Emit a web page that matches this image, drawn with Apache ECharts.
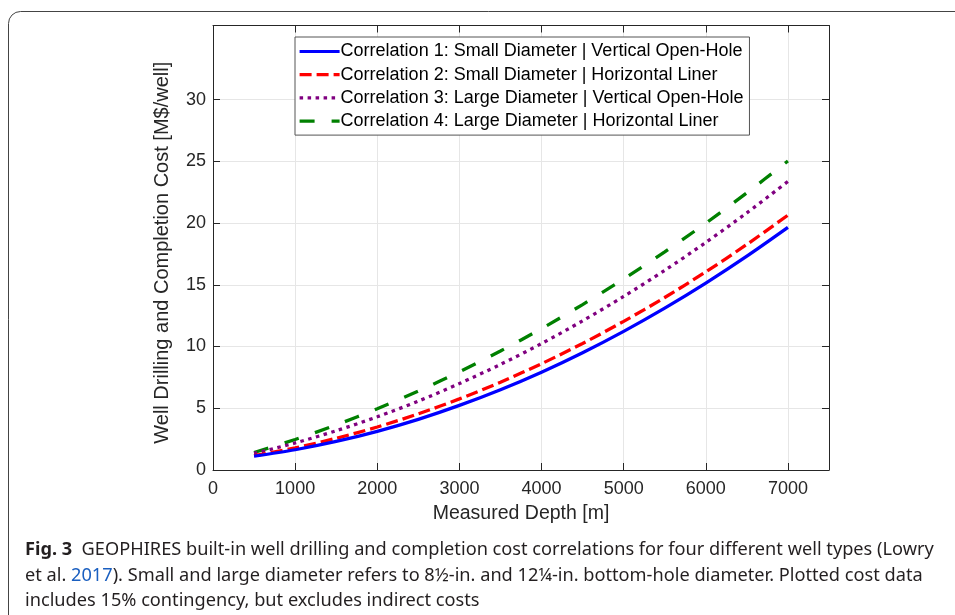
<!DOCTYPE html>
<html>
<head>
<meta charset="utf-8">
<script src="https://cdn.jsdelivr.net/npm/echarts@6/dist/echarts.min.js"></script>
<style>
html,body{margin:0;padding:0;background:#fff;}
#chart{width:955px;height:615px;}
</style>
</head>
<body>
<div id="chart"></div>
<script>
// Measured depth [m]
const depths = [500, 1000, 1500, 2000, 2500, 3000, 3500, 4000, 4500, 5000, 5500, 6000, 6500, 7000];
// Cost [M$/well]
const corr1 = [1.12, 1.64, 2.31, 3.13, 4.10, 5.23, 6.50, 7.92, 9.50, 11.23, 13.11, 15.14, 17.32, 19.65];
const corr2 = [1.16, 1.79, 2.57, 3.48, 4.55, 5.76, 7.11, 8.61, 10.25, 12.04, 13.97, 16.05, 18.27, 20.64];
const corr3 = [1.34, 2.19, 3.18, 4.31, 5.58, 7.00, 8.55, 10.24, 12.08, 14.06, 16.17, 18.43, 20.83, 23.37];
const corr4 = [1.42, 2.47, 3.65, 4.96, 6.39, 7.95, 9.64, 11.45, 13.40, 15.47, 17.67, 19.99, 22.45, 25.03];
const seriesNames = [
  'Correlation 1: Small Diameter | Vertical Open-Hole',
  'Correlation 2: Small Diameter | Horizontal Liner',
  'Correlation 3: Large Diameter | Vertical Open-Hole',
  'Correlation 4: Large Diameter | Horizontal Liner'
];
const xTicks = [0, 1000, 2000, 3000, 4000, 5000, 6000, 7000];
const yTicks = [0, 5, 10, 15, 20, 25, 30];
const xAxisTitle = 'Measured Depth [m]';
const yAxisTitle = 'Well Drilling and Completion Cost [M$/well]';
const captionLines = [
  '{b|Fig. 3}  GEOPHIRES built-in well drilling and completion cost correlations for four different well types (Lowry',
  'et al. {l|2017}). Small and large diameter refers to 8½-in. and 12¼-in. bottom-hole diameter. Plotted cost data',
  'includes 15% contingency, but excludes indirect costs'
];

const pair = (ys) => depths.map((d, i) => [d, ys[i]]);
const font = '"Liberation Sans", Arial, Helvetica, sans-serif';
const axisColor = '#262626';
const gridColor = '#e6e6e6';
const capFont = '"Noto Sans", "Open Sans", sans-serif';
const capSize = 18.2;

const styles = [
  { color: '#0000ff', type: 'solid' },
  { color: '#ff0000', type: [12, 5] },
  { color: '#800080', type: [3.5, 4.5] },
  { color: '#008000', type: [15, 17] }
];
const dataSets = [corr1, corr2, corr3, corr4];

const chart = echarts.init(document.getElementById('chart'), null, { renderer: 'canvas' });

const tickCommon = { show: true, inside: true, length: 7, lineStyle: { color: axisColor, width: 1 } };
const lineCommon = { show: true, onZero: false, lineStyle: { color: axisColor, width: 1 } };
// y split lines: ticks are 0..35 plus the max; only show 0..30
const ySplitColors = yTicks.map(() => gridColor).concat(['rgba(0,0,0,0)', 'rgba(0,0,0,0)']);

const option = {
  animation: false,
  backgroundColor: '#ffffff',
  grid: { left: 213, right: 126, top: 25.5, bottom: 145, containLabel: false },
  legend: {
    orient: 'vertical',
    left: 295,
    top: 37,
    itemWidth: 40,
    itemHeight: 14,
    itemGap: 5.2,
    padding: [5.5, 6, 5, 3],
    backgroundColor: '#ffffff',
    borderColor: '#555555',
    borderWidth: 1,
    borderRadius: 0,
    itemStyle: { opacity: 0 },
    lineStyle: { width: 3.2, type: 'inherit', cap: 'butt' },
    textStyle: { fontFamily: font, fontSize: 18, color: '#000', padding: [0, 0, 0, -4] },
    data: seriesNames
  },
  xAxis: [
    {
      type: 'value', min: 0, max: 7500, interval: 1000, position: 'bottom',
      name: xAxisTitle, nameLocation: 'middle', nameGap: 34,
      nameTextStyle: { fontFamily: font, fontSize: 19.5, color: axisColor },
      axisLine: lineCommon,
      axisTick: Object.assign({ customValues: xTicks }, tickCommon),
      axisLabel: { customValues: xTicks, formatter: (v) => String(v), fontFamily: font, fontSize: 18, color: axisColor, margin: 10 },
      splitLine: { show: true, lineStyle: { color: gridColor, width: 1 } }
    },
    {
      type: 'value', min: 0, max: 7500, interval: 1000, position: 'top',
      axisLine: lineCommon,
      axisTick: Object.assign({ customValues: xTicks }, tickCommon),
      axisLabel: { show: false },
      splitLine: { show: false }
    }
  ],
  yAxis: [
    {
      type: 'value', min: 0, max: 36, interval: 5, position: 'left',
      name: yAxisTitle, nameLocation: 'middle', nameGap: 41,
      nameTextStyle: { fontFamily: font, fontSize: 20, color: axisColor, padding: [0, 10, 0, 0] },
      axisLine: lineCommon,
      axisTick: Object.assign({ customValues: yTicks }, tickCommon),
      axisLabel: { customValues: yTicks, formatter: (v) => String(v), fontFamily: font, fontSize: 18, color: axisColor, margin: 7 },
      splitLine: { show: true, lineStyle: { color: ySplitColors, width: 1 } }
    },
    {
      type: 'value', min: 0, max: 36, interval: 5, position: 'right',
      axisLine: lineCommon,
      axisTick: Object.assign({ customValues: yTicks }, tickCommon),
      axisLabel: { show: false },
      splitLine: { show: false }
    }
  ],
  series: dataSets.map((ys, i) => ({
    name: seriesNames[i],
    type: 'line',
    xAxisIndex: 0,
    yAxisIndex: 0,
    data: pair(ys),
    symbol: 'none',
    smooth: 0.3,
    z: 10 - i,
    color: styles[i].color,
    lineStyle: { color: styles[i].color, width: 3.3, type: styles[i].type, cap: 'butt' }
  })),
  graphic: [
    {
      type: 'rect', silent: true, z: -1,
      shape: { x: 8.5, y: 11.5, width: 1000, height: 700, r: 12 },
      style: { fill: 'none', stroke: '#444', lineWidth: 1 }
    }
  ].concat(captionLines.map((ln, i) => ({
    type: 'text', silent: true,
    x: 25, y: [550, 576, 601][i],
    style: {
      text: ln,
      fontFamily: capFont,
      fontSize: capSize,
      fill: '#231f20',
      verticalAlign: 'middle',
      align: 'left',
      rich: {
        b: { fontWeight: 'bold', fontSize: capSize, fontFamily: capFont, fill: '#231f20' },
        l: { fontSize: capSize, fontFamily: capFont, fill: '#1a5fc0' }
      }
    }
  })))
};

chart.setOption(option);
</script>
</body>
</html>
